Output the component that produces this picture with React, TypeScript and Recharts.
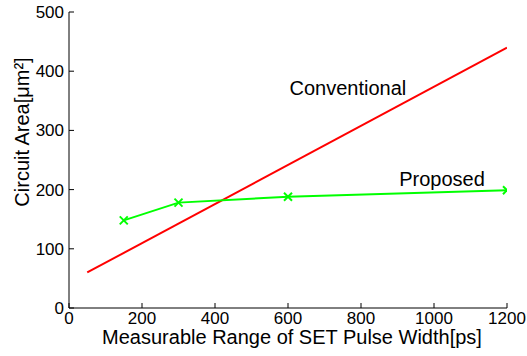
import React from 'react';
import { ComposedChart, Line, XAxis, YAxis, ReferenceDot, Label } from 'recharts';

const xTicks = [0, 200, 400, 600, 800, 1000, 1200];
const yTicks = [0, 100, 200, 300, 400, 500];

const conventionalX = [50, 1200];
const conventionalY = [60, 440];

const proposedX = [150, 300, 600, 1200];
const proposedY = [148, 178, 188, 199];

const conventionalData = conventionalX.map((x, i) => ({ x, y: conventionalY[i] }));
const proposedData = proposedX.map((x, i) => ({ x, y: proposedY[i] }));

const FONT = '"Liberation Sans", Arial, Helvetica, sans-serif';
const LABEL_SIZE = 20;

const XMarker = (props: any) => {
  const { cx, cy } = props;
  if (cx == null || cy == null) return null;
  const s = 4;
  return (
    <g>
      <line x1={cx - s} y1={cy - s} x2={cx + s} y2={cy + s} stroke="#00ff00" strokeWidth={2} />
      <line x1={cx - s} y1={cy + s} x2={cx + s} y2={cy - s} stroke="#00ff00" strokeWidth={2} />
    </g>
  );
};

const YLabel = (props: any) => {
  const vb = props.viewBox || {};
  const cx = vb.x + 29;
  const cy = vb.y + vb.height / 2 - 28;
  return (
    <text
      x={cx}
      y={cy}
      transform={`rotate(-90, ${cx}, ${cy})`}
      textAnchor="middle"
      fontFamily={FONT}
      fontSize={LABEL_SIZE}
      fill="#000"
    >
      Circuit Area[μm²]
    </text>
  );
};

const tickStyle = { fontFamily: FONT, fontSize: 17, fill: '#000' };
const labelStyle = { fontFamily: FONT, fontSize: LABEL_SIZE, fill: '#000' };

export default function App() {
  return (
    <div style={{ position: 'absolute', left: 0, top: 0, width: 527, height: 356, background: '#fff' }}>
      <ComposedChart width={527} height={356} margin={{ top: 12, right: 20, left: 0, bottom: 0 }}>
        <XAxis
          xAxisId="b"
          dataKey="x"
          type="number"
          domain={[0, 1200]}
          ticks={xTicks}
          interval={0}
          height={48}
          tickSize={-5}
          tickMargin={9}
          tick={tickStyle}
          stroke="#000"
          axisLine={{ stroke: '#000' }}
          tickLine={{ stroke: '#000' }}
          allowDataOverflow
        >
          <Label
            value="Measurable Range of SET Pulse Width[ps]"
            position="insideBottom"
            offset={12}
            dx={4}
            style={labelStyle}
          />
        </XAxis>
        <XAxis
          xAxisId="t"
          orientation="top"
          dataKey="x"
          type="number"
          domain={[0, 1200]}
          ticks={xTicks}
          height={0}
          tickSize={-5}
          tick={false}
          stroke="#000"
        />
        <YAxis
          yAxisId="l"
          type="number"
          domain={[0, 500]}
          ticks={yTicks}
          interval={0}
          width={69}
          tickSize={-5}
          tickMargin={10}
          tick={tickStyle}
          stroke="#000"
          label={<YLabel />}
        />
        <YAxis
          yAxisId="r"
          orientation="right"
          type="number"
          domain={[0, 500]}
          ticks={yTicks}
          width={0}
          tickSize={-5}
          tick={false}
          stroke="#000"
        />
        <Line
          xAxisId="b"
          yAxisId="l"
          data={conventionalData}
          dataKey="y"
          stroke="#ff0000"
          strokeWidth={2}
          dot={false}
          activeDot={false}
          isAnimationActive={false}
        />
        <Line
          xAxisId="b"
          yAxisId="l"
          data={proposedData}
          dataKey="y"
          stroke="#00ff00"
          strokeWidth={2}
          dot={<XMarker />}
          activeDot={false}
          isAnimationActive={false}
        />
        <ReferenceDot xAxisId="b" yAxisId="l" x={764} y={372} r={0} stroke="none" fill="none">
          <Label value="Conventional" position="center" style={labelStyle} />
        </ReferenceDot>
        <ReferenceDot xAxisId="b" yAxisId="l" x={1022} y={218} r={0} stroke="none" fill="none">
          <Label value="Proposed" position="center" style={labelStyle} />
        </ReferenceDot>
      </ComposedChart>
    </div>
  );
}
